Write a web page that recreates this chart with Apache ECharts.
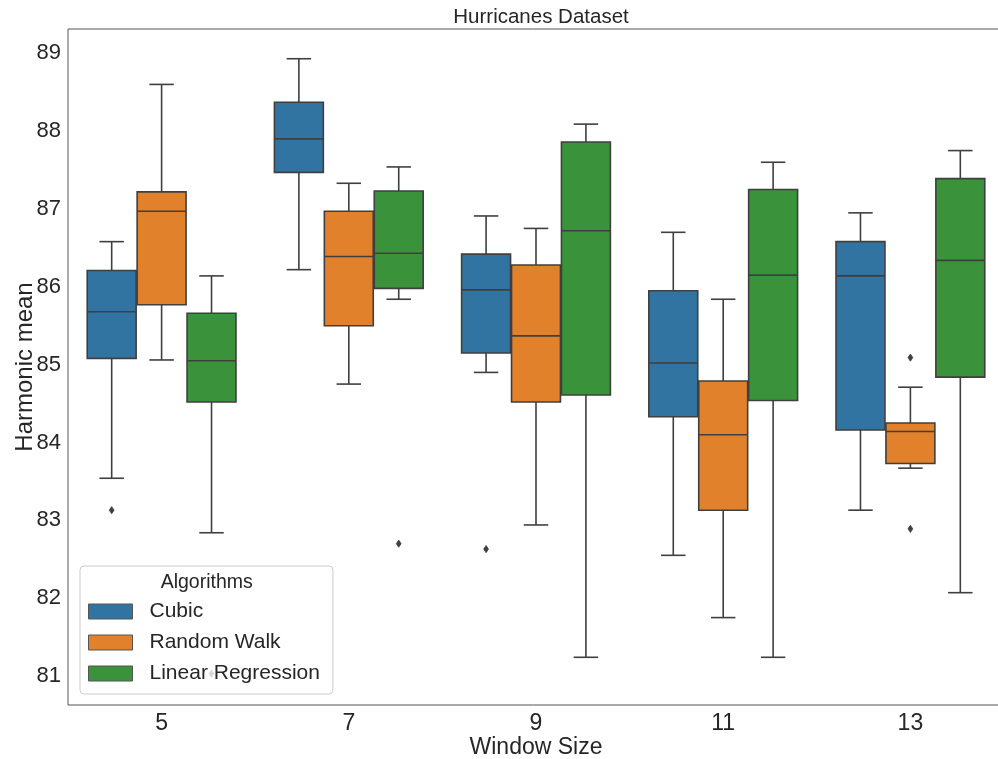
<!DOCTYPE html>
<html>
<head>
<meta charset="utf-8">
<script src="https://cdn.jsdelivr.net/npm/echarts@6/dist/echarts.min.js"></script>
<style>
  html, body { margin: 0; padding: 0; background: #fff; }
  #chart { width: 998px; height: 759px; }
</style>
</head>
<body>
<div id="chart"></div>
<script>
const windowSizes = ['5', '7', '9', '11', '13'];
const algorithms = ['Cubic', 'Random Walk', 'Linear Regression'];

// Box statistics per window size: [lower whisker, Q1, median, Q3, upper whisker]
const cubicStats = [
  [83.54, 85.08, 85.68, 86.21, 86.58],
  [86.22, 87.47, 87.90, 88.37, 88.93],
  [84.90, 85.15, 85.96, 86.42, 86.91],
  [82.55, 84.33, 85.02, 85.95, 86.70],
  [83.13, 84.16, 86.14, 86.58, 86.95]
];
const randomWalkStats = [
  [85.06, 85.77, 86.97, 87.22, 88.60],
  [84.75, 85.50, 86.39, 86.97, 87.33],
  [82.94, 84.52, 85.37, 86.28, 86.75],
  [81.75, 83.13, 84.10, 84.79, 85.84],
  [83.67, 83.73, 84.14, 84.25, 84.71]
];
const linearRegressionStats = [
  [82.84, 84.52, 85.05, 85.66, 86.14],
  [85.84, 85.98, 86.43, 87.23, 87.54],
  [81.24, 84.61, 86.72, 87.86, 88.09],
  [81.24, 84.54, 86.15, 87.25, 87.60],
  [82.07, 84.84, 86.34, 87.39, 87.75]
];

// Outliers: [window size index, value]
const cubicOutliers = [[0, 83.13], [2, 82.63]];
const randomWalkOutliers = [[4, 85.09], [4, 82.89]];
const linearRegressionOutliers = [[0, 81.03], [1, 82.70]];

const yTicks = [81, 82, 83, 84, 85, 86, 87, 88, 89];

const palette = ['#3274a1', '#e1812c', '#3a923a'];
const edgeColor = '#3f3f3f';
const textColor = '#262626';
const fontFamily = '"Liberation Sans", Arial, sans-serif';

// Horizontal geometry of one hue slot inside a category band
function slotGeometry(api, hueIndex, catCenterX) {
  const band = api.size([1, 0])[0];
  const slot = band * 0.8 / algorithms.length;
  const width = slot * 0.98;
  const cx = catCenterX + (hueIndex - (algorithms.length - 1) / 2) * slot;
  return { cx, width };
}

function boxRenderer(hueIndex) {
  return function (params, api) {
    const cat = api.value(0);
    const yLow = api.coord([cat, api.value(1)]);
    const yQ1 = api.coord([cat, api.value(2)])[1];
    const yMed = api.coord([cat, api.value(3)])[1];
    const yQ3 = api.coord([cat, api.value(4)])[1];
    const yHigh = api.coord([cat, api.value(5)])[1];
    const g = slotGeometry(api, hueIndex, yLow[0]);
    const cx = g.cx, w = g.width, cap = w / 4;
    const lineStyle = { stroke: edgeColor, lineWidth: 1.6 };
    return {
      type: 'group',
      children: [
        { type: 'line', shape: { x1: cx, y1: yQ1, x2: cx, y2: yLow[1] }, style: lineStyle },
        { type: 'line', shape: { x1: cx, y1: yQ3, x2: cx, y2: yHigh }, style: lineStyle },
        { type: 'line', shape: { x1: cx - cap, y1: yLow[1], x2: cx + cap, y2: yLow[1] }, style: lineStyle },
        { type: 'line', shape: { x1: cx - cap, y1: yHigh, x2: cx + cap, y2: yHigh }, style: lineStyle },
        { type: 'rect', shape: { x: cx - w / 2, y: yQ3, width: w, height: yQ1 - yQ3 },
          style: { fill: palette[hueIndex], stroke: edgeColor, lineWidth: 1.6 } },
        { type: 'line', shape: { x1: cx - w / 2, y1: yMed, x2: cx + w / 2, y2: yMed }, style: lineStyle }
      ]
    };
  };
}

function outlierRenderer(hueIndex) {
  return function (params, api) {
    const p = api.coord([api.value(0), api.value(1)]);
    const g = slotGeometry(api, hueIndex, p[0]);
    const cx = g.cx, cy = p[1];
    return {
      type: 'polygon',
      shape: { points: [[cx, cy - 3.6], [cx + 2.4, cy], [cx, cy + 3.6], [cx - 2.4, cy]] },
      style: { fill: edgeColor, stroke: edgeColor, lineWidth: 0.8 }
    };
  };
}

function boxData(stats) {
  return stats.map((s, i) => [i].concat(s));
}

const statsList = [cubicStats, randomWalkStats, linearRegressionStats];
const outlierList = [cubicOutliers, randomWalkOutliers, linearRegressionOutliers];

const series = [];
algorithms.forEach((name, h) => {
  series.push({
    name: name,
    type: 'custom',
    renderItem: boxRenderer(h),
    itemStyle: { color: palette[h] },
    encode: { x: 0, y: [1, 2, 3, 4, 5] },
    data: boxData(statsList[h]),
    clip: false,
    z: 2
  });
});
algorithms.forEach((name, h) => {
  series.push({
    name: name,
    type: 'custom',
    renderItem: outlierRenderer(h),
    itemStyle: { color: palette[h] },
    encode: { x: 0, y: 1 },
    data: outlierList[h],
    clip: false,
    z: 3
  });
});

const chart = echarts.init(document.getElementById('chart'), null, { renderer: 'canvas' });
chart.setOption({
  animation: false,
  backgroundColor: '#ffffff',
  title: {
    text: 'Hurricanes Dataset',
    left: 536,
    textAlign: 'center',
    top: 2,
    textStyle: { fontSize: 20.5, fontWeight: 'normal', color: textColor, fontFamily: fontFamily }
  },
  grid: {
    left: 68, right: -6, top: 29, bottom: 54,
    containLabel: false,
    outerBoundsMode: 'none',
    show: true, borderColor: '#555555', borderWidth: 1, backgroundColor: 'transparent'
  },
  xAxis: {
    type: 'category',
    data: windowSizes,
    boundaryGap: true,
    name: 'Window Size',
    nameLocation: 'middle',
    nameGap: 31,
    nameMoveOverlap: false,
    nameTextStyle: { fontSize: 23, color: textColor, fontFamily: fontFamily },
    axisLine: { show: false },
    axisTick: { show: false },
    axisLabel: { fontSize: 23, color: textColor, fontFamily: fontFamily, margin: 7 },
    splitLine: { show: false }
  },
  yAxis: {
    type: 'value',
    min: 80.627,
    max: 89.312,
    name: 'Harmonic mean',
    nameLocation: 'middle',
    nameGap: 31,
    nameMoveOverlap: false,
    nameTextStyle: { fontSize: 24, color: textColor, fontFamily: fontFamily },
    axisLine: { show: false },
    axisTick: { show: false },
    splitLine: { show: false },
    axisLabel: {
      customValues: yTicks,
      fontSize: 22, color: textColor, fontFamily: fontFamily, margin: 7
    }
  },
  legend: {
    orient: 'vertical',
    left: 80,
    top: 566,
    padding: [35, 13, 10, 8],
    itemGap: 10,
    itemWidth: 44,
    itemHeight: 15,
    icon: 'rect',
    backgroundColor: 'rgba(255,255,255,0.8)',
    borderColor: '#cccccc',
    borderWidth: 1,
    borderRadius: 4,
    z: 10,
    data: algorithms.map((name, h) => ({
      name: name,
      itemStyle: { color: palette[h], borderColor: '#555555', borderWidth: 1 }
    })),
    textStyle: { fontSize: 21, color: textColor, fontFamily: fontFamily, lineHeight: 21, padding: [0, 0, 0, 12] }
  },
  graphic: [{
    type: 'text',
    x: 206.7,
    y: 582.7,
    z: 100,
    style: {
      text: 'Algorithms',
      fill: textColor,
      fontSize: 19.5,
      fontFamily: fontFamily,
      align: 'center',
      verticalAlign: 'middle',
      textAlign: 'center',
      textVerticalAlign: 'middle'
    }
  }],
  series: series
});
</script>
</body>
</html>
